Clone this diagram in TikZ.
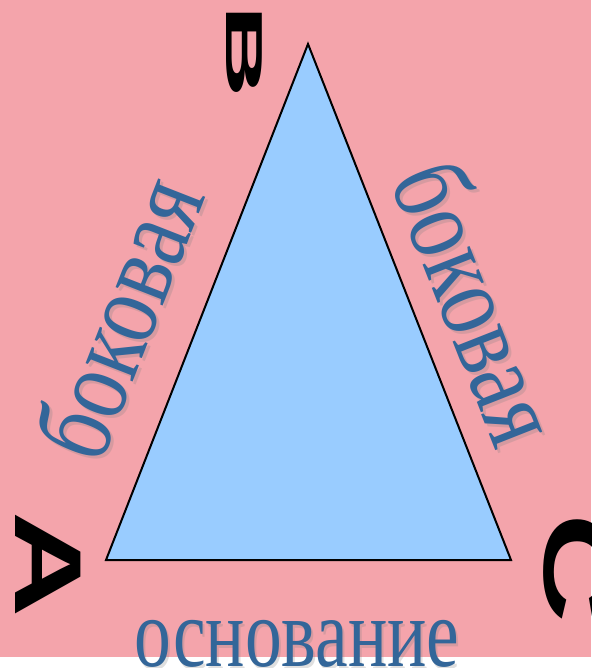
\documentclass[tikz,border=0pt]{standalone}
\usepackage{fontspec}
\setmainfont{Liberation Serif}
\newfontfamily\vertexfont{Liberation Sans}
\usetikzlibrary{positioning}

\definecolor{bgpink}{HTML}{F4A4AB}
\definecolor{trifill}{HTML}{99CCFF}
\definecolor{labelblue}{HTML}{336699}

\tikzset{
  wordlabel/.style={text=labelblue, inner sep=0pt},
  sidelabel/.style={wordlabel, font=\fontsize{98}{98}\selectfont, xscale=0.75},
  edgelabel/.style={wordlabel, font=\fontsize{110}{110}\selectfont, xscale=0.8},
  labelshadow/.style={text=black!50, opacity=0.25},
  vertex/.style={inner sep=0pt, text=black, font=\vertexfont\bfseries\fontsize{52}{52}\selectfont}
}

\begin{document}
\begin{tikzpicture}[x=1pt, y=-1pt]
      \useasboundingbox (0,0) rectangle (591,668);
      % Background
      \fill[white] (0,0) rectangle (591,668);
      \fill[bgpink] (0,0) rectangle (591,657);

      % Triangle
      \coordinate (A) at (106,560);
      \coordinate (B) at (308,44);
      \coordinate (C) at (511,560);
      \draw[fill=trifill, line width=2pt, line join=miter] (A) -- (B) -- (C) -- cycle;

      % Vertex letters
      \node[vertex, rotate=-90, xscale=2.5] (labB) at (244,51) {B};
      \node[vertex, rotate=-90, xscale=1.55, font=\vertexfont\bfseries\fontsize{95}{95}\selectfont] (labA) at (48,565) {A};
      \node[vertex, rotate=-90, xscale=1.6, font=\vertexfont\bfseries\fontsize{95}{95}\selectfont] (labC) at (577,568) {C};

      % Side labels
      \node[rotate=68.6, edgelabel, labelshadow] (leftshadow) at (120,320) {боковая};
      \node[rotate=68.6, edgelabel] (leftside) at (117,317) {боковая};
      \node[rotate=-68.5, edgelabel, labelshadow] (rightshadow) at (482,305) {боковая};
      \node[rotate=-68.5, edgelabel] (rightside) at (479,302) {боковая};
      \node[sidelabel, labelshadow, anchor=base] (baseshadow) at (299,669) {основание};
      \node[sidelabel, anchor=base] (base) at (297,666) {основание};
\end{tikzpicture}
\end{document}
